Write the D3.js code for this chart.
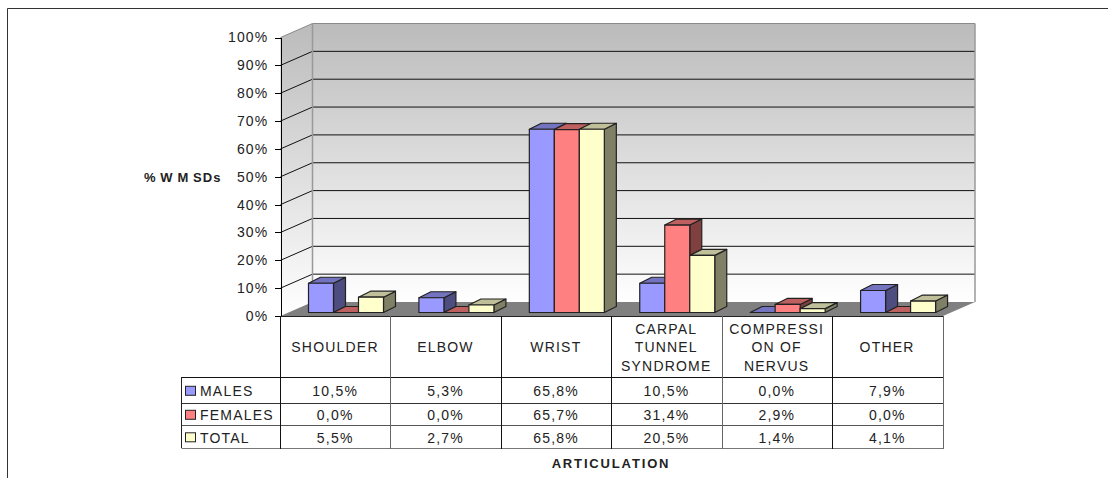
<!DOCTYPE html>
<html><head><meta charset="utf-8">
<script src="https://cdnjs.cloudflare.com/ajax/libs/d3/7.8.5/d3.min.js"></script>
<style>
html,body{margin:0;padding:0;background:#fff}
svg{display:block}
text{font-family:"Liberation Sans",Arial,sans-serif;fill:#222}
</style></head><body>
<svg id="chart" width="1108" height="478"></svg>
<script>
// Work-related musculoskeletal disorders by articulation and sex
const categories = [["SHOULDER"],["ELBOW"],["WRIST"],["CARPAL","TUNNEL","SYNDROME"],["COMPRESSI","ON OF","NERVUS"],["OTHER"]];
const seriesNames = ["MALES","FEMALES","TOTAL"];
const males   = [10.5, 5.3, 65.8, 10.5, 0.0, 7.9];
const females = [0.0, 0.0, 65.7, 31.4, 2.9, 0.0];
const total   = [5.5, 2.7, 65.8, 20.5, 1.4, 4.1];
const seriesValues = [males, females, total];
const faceColors = ["#9999ff","#ff8080","#ffffcc"];
const yTicks = [0,10,20,30,40,50,60,70,80,90,100];

const svg = d3.select("#chart");
const left = 280.5, right = 943, top3d = 37.5, base = 316;
const depthX = 32, depthY = -14;       // wall depth in the oblique projection
const barDX = 12, barDY = -6;          // bar depth
const barInset = 3.5;                  // bars stand slightly behind the floor's front edge

const x = d3.scaleBand().domain(d3.range(categories.length)).range([left, right]);
const inner = d3.scaleBand().domain(seriesNames).range([28, 103]);
const y = d3.scaleLinear().domain([0,100]).range([base, top3d]);

const poly = pts => pts.map(p => p.join(",")).join(" ");

// Page frame
svg.append("path").attr("d","M7.5,478V8.5H1108").attr("fill","none").attr("stroke","#333").attr("stroke-width",1);

// Wall shading
const grad = svg.append("defs").append("linearGradient").attr("id","wall")
  .attr("x1",0).attr("y1",0).attr("x2",0).attr("y2",1);
grad.append("stop").attr("offset",0).attr("stop-color","#bbbbbb");
grad.append("stop").attr("offset",1).attr("stop-color","#ffffff");

// Back wall and side wall
svg.append("rect").attr("x",left+depthX).attr("y",y(100)+depthY)
  .attr("width",right-left).attr("height",y(0)-y(100)).attr("fill","url(#wall)");
svg.append("polygon").attr("fill","url(#wall)")
  .attr("points",poly([[left,y(100)],[left+depthX,y(100)+depthY],[left+depthX,y(0)+depthY],[left,y(0)]]));

// Gridlines across both walls
svg.append("g").selectAll("path").data(yTicks.filter(d=>d>0)).join("path")
  .attr("fill","none").attr("stroke",d=>d===100?"#8a8a8a":"#111").attr("stroke-width",1)
  .attr("d",d=>`M${left},${y(d)}L${left+depthX},${y(d)+depthY}L${right+depthX},${y(d)+depthY}`);

// Wall edges
svg.append("path").attr("fill","none").attr("stroke","#999").attr("stroke-width",1.5)
  .attr("d",`M${left+depthX},${y(100)+depthY}V${y(0)+depthY}M${right+depthX},${y(100)+depthY}V${y(0)+depthY}`);

// Floor
svg.append("polygon").attr("fill","#808080")
  .attr("points",poly([[left,y(0)],[left+depthX,y(0)+depthY],[right+depthX,y(0)+depthY],[right,y(0)]]));

// Value axis
const axis = d3.axisLeft(y).tickValues(yTicks).tickSize(6).tickSizeOuter(0).tickPadding(6).tickFormat(d=>d+"%");
const ga = svg.append("g").attr("transform",`translate(${left},0)`).call(axis);
ga.selectAll("path,line").attr("stroke","#000").attr("shape-rendering","crispEdges");
ga.selectAll("text").style("font-size","14px").style("letter-spacing","1.2px").style("font-family",null);

// Bars, drawn left to right so each front face covers its neighbour's side
const bars = svg.append("g").attr("stroke","#222").attr("stroke-width",1.2).attr("stroke-linejoin","round");
categories.forEach((c,i)=>{
  seriesNames.forEach((s,k)=>{
    const v = seriesValues[k][i];
    const x0 = x(i)+inner(s), x1 = x0+inner.bandwidth();
    const yb = y(0)-barInset, yt = y(v)-barInset;
    const col = d3.color(faceColors[k]);
    const shade = f => d3.rgb(col.r*f,col.g*f,col.b*f).formatHex();
    if (v>0) {
      bars.append("polygon").attr("fill",shade(0.5))
        .attr("points",poly([[x1,yb],[x1+barDX,yb+barDY],[x1+barDX,yt+barDY],[x1,yt]]));
    }
    bars.append("polygon").attr("fill",shade(0.75))
      .attr("points",poly([[x0,yt],[x0+barDX,yt+barDY],[x1+barDX,yt+barDY],[x1,yt]]));
    if (v>0) {
      bars.append("rect").attr("x",x0).attr("y",yt).attr("width",x1-x0).attr("height",yb-yt).attr("fill",faceColors[k]);
    }
  });
});

// Data table under the plot
const tableLeft = 181.5;
const rowEdges = [316,377,403,425,448];
const table = svg.append("g");
const hLine = (x1,x2,yy,col)=>table.append("line").attr("x1",x1).attr("x2",x2).attr("y1",yy+.5).attr("y2",yy+.5).attr("stroke",col);
const vLine = (xx,y1,y2,col)=>table.append("line").attr("x1",xx).attr("x2",xx).attr("y1",y1).attr("y2",y2).attr("stroke",col);
hLine(left,right,316,"#222");
hLine(tableLeft,right,377,"#111");
hLine(tableLeft,right,403,"#333");
hLine(tableLeft,right,425,"#555");
hLine(tableLeft,right,448,"#777");
vLine(tableLeft,377,448,"#222");
d3.range(categories.length+1).forEach(i=>{
  const xx = Math.floor(left+i*x.step())+0.5;
  vLine(xx,316,449,(i===1||i===4||i===6)?"#666":"#111");
});

const labelStyle = sel => sel.style("font-size","14px").style("letter-spacing","1.2px");
const cellStyle = sel => sel.style("font-size","14px").style("letter-spacing","1.2px");
categories.forEach((lines,i)=>{
  const cx = x(i)+x.bandwidth()/2 - 0.7;
  lines.forEach((ln,j)=>{
    table.append("text").attr("x",cx).attr("text-anchor","middle")
      .attr("y",347+(j-(lines.length-1)/2)*18.5).attr("dy","0.36em").text(ln).call(labelStyle);
  });
});
const fmt = v => v.toFixed(1).replace(".",",")+"%";
seriesNames.forEach((s,k)=>{
  const cy = (rowEdges[k+1]+rowEdges[k+2])/2+1.3;
  table.append("rect").attr("x",185.5).attr("y",cy-5).attr("width",10).attr("height",9)
    .attr("fill",faceColors[k]).attr("stroke","#222").attr("stroke-width",1);
  table.append("text").attr("x",200).attr("y",cy).attr("dy","0.36em").text(s).call(cellStyle);
  seriesValues[k].forEach((v,i)=>{
    table.append("text").attr("x",x(i)+x.bandwidth()/2 - 0.5).attr("y",cy).attr("dy","0.36em")
      .attr("text-anchor","middle").text(fmt(v)).call(cellStyle);
  });
});

// Axis titles
svg.append("text").attr("x",144).attr("y",177).attr("dy","0.36em").attr("font-weight","bold")
  .style("font-size","13px").style("letter-spacing","1.1px").style("word-spacing","-1px").text("% W M SDs");
svg.append("text").attr("x",611).attr("y",463).attr("dy","0.36em").attr("text-anchor","middle").attr("font-weight","bold")
  .style("font-size","13px").style("letter-spacing","1.85px").text("ARTICULATION");
</script>
</body></html>
